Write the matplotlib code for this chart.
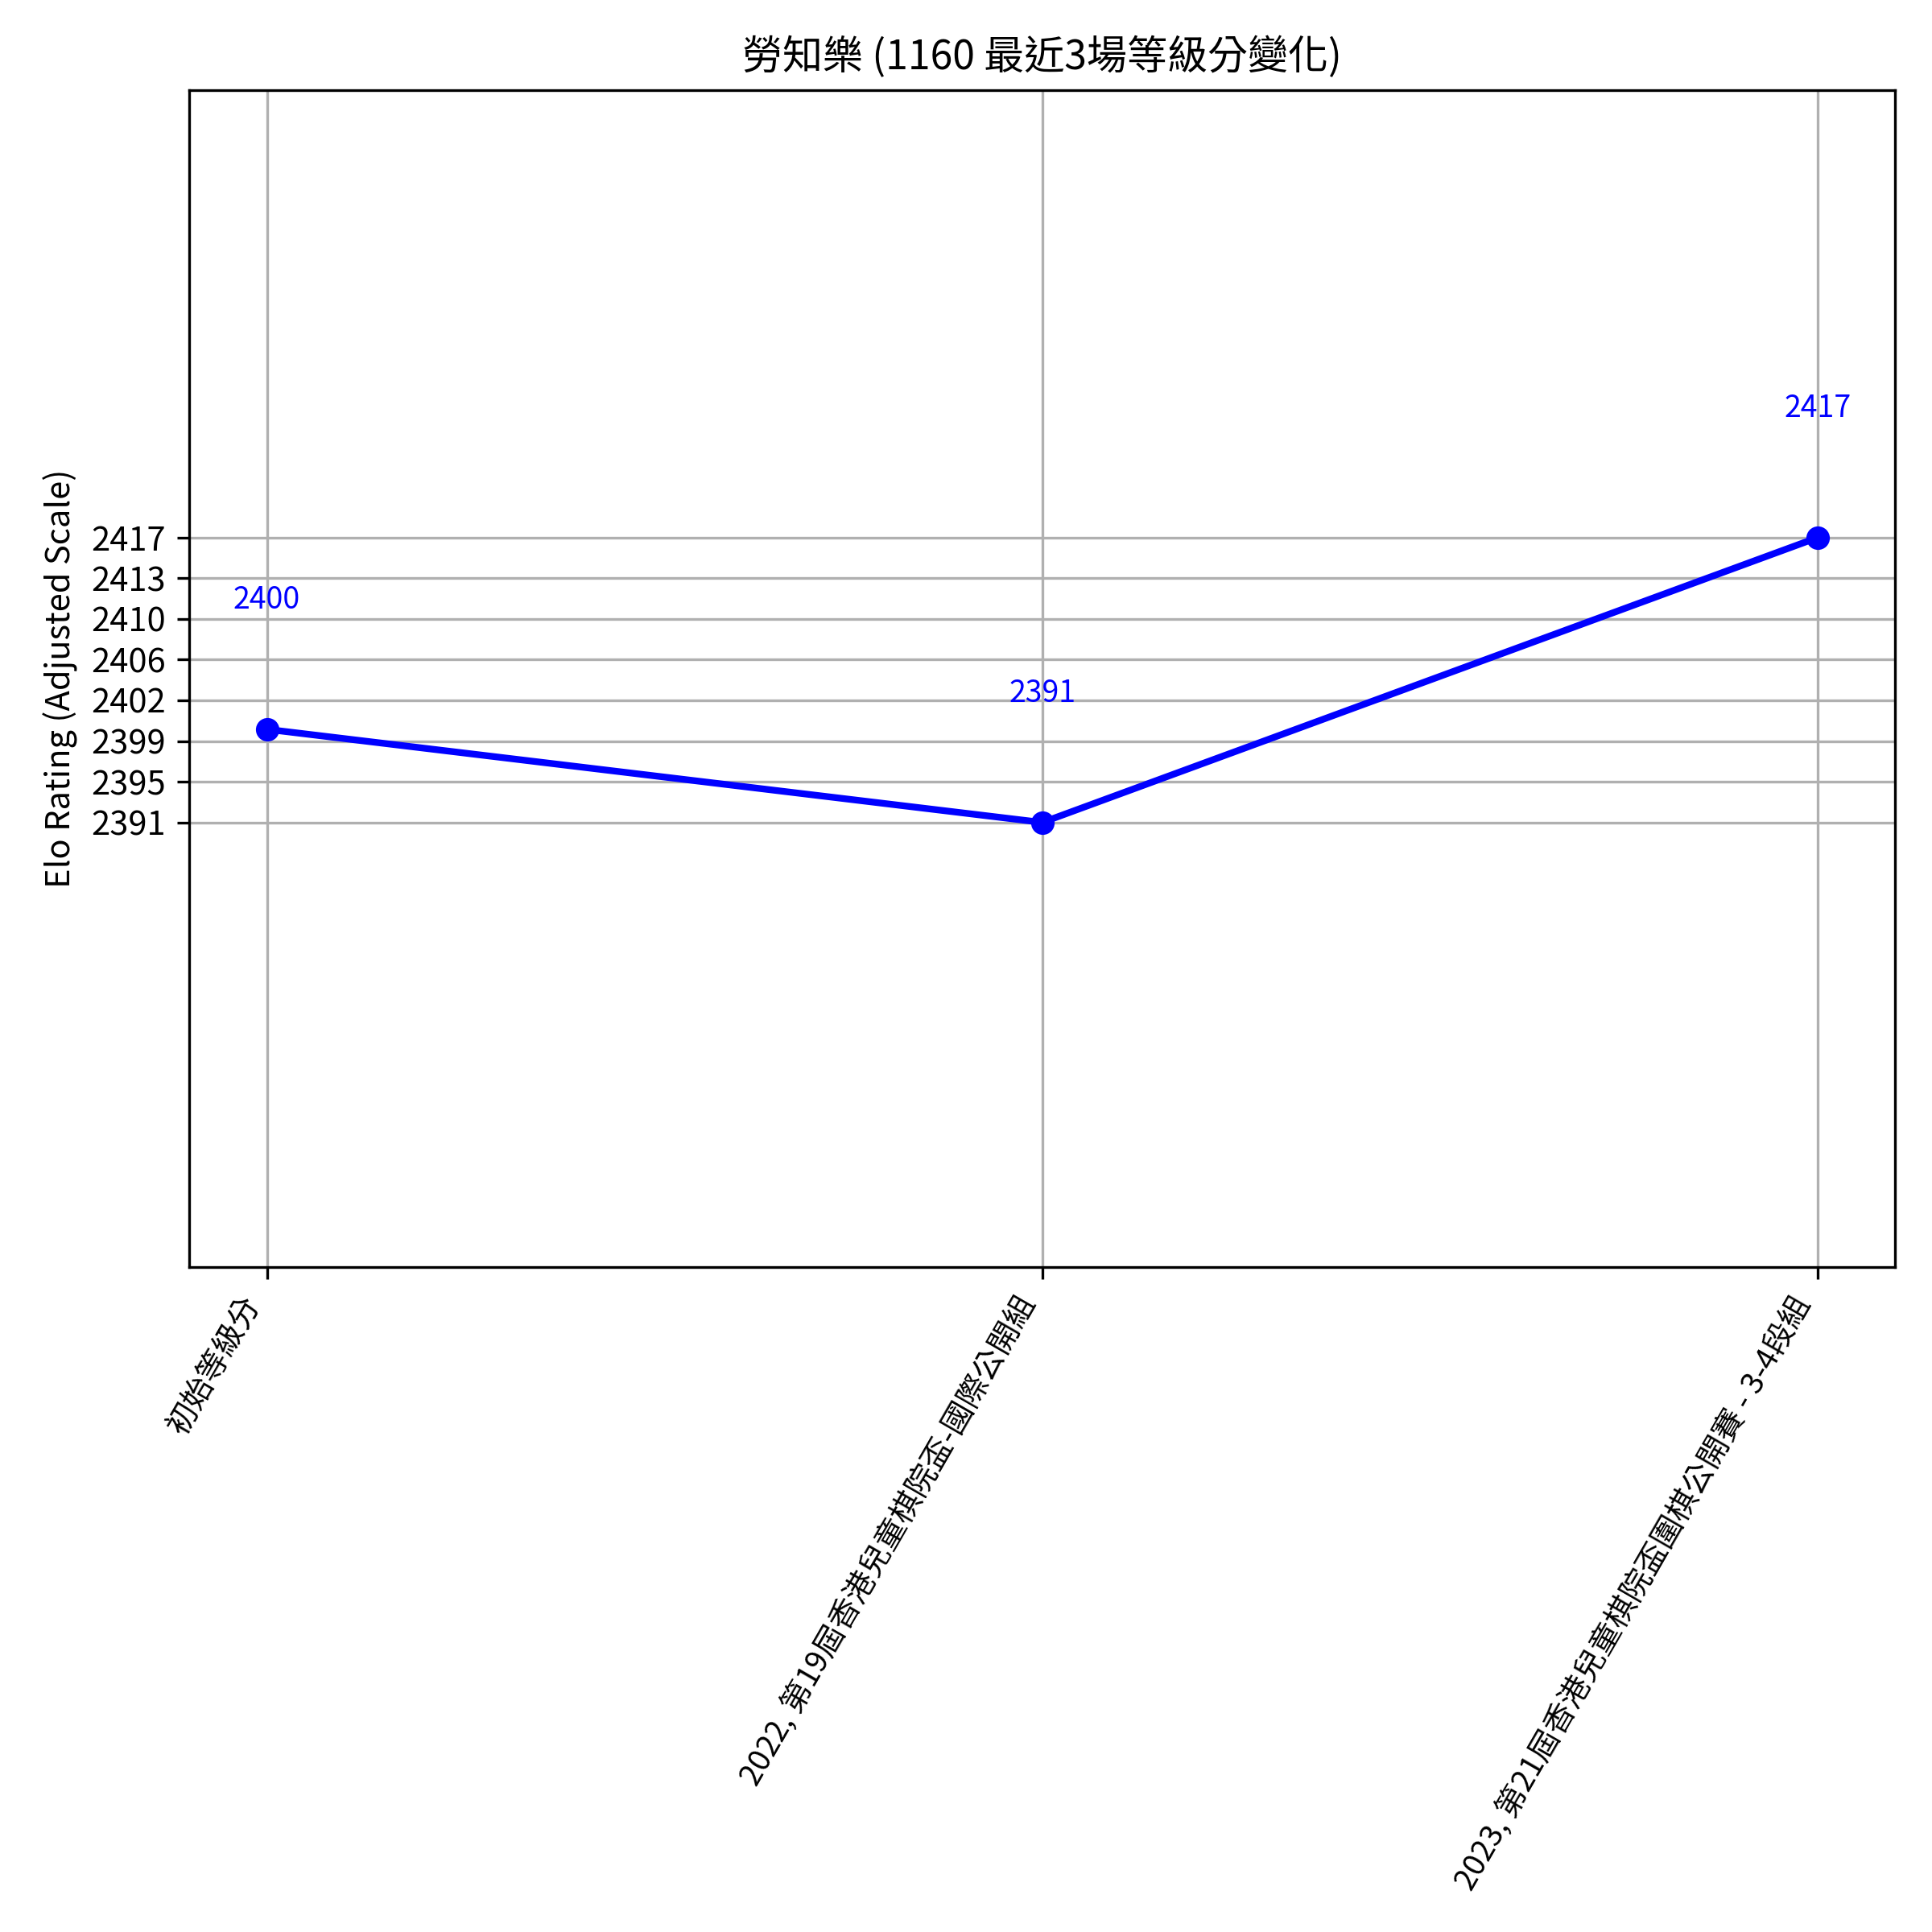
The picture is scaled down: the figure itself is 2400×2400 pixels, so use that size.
import matplotlib
matplotlib.use("Agg")
import matplotlib.pyplot as plt
import numpy as np

plt.rcParams['font.family'] = ['Noto Sans CJK TC', 'DejaVu Sans']

# data
events = ["初始等級分",
          "2022, 第19屆香港兒童棋院盃-國際公開組",
          "2023, 第21屆香港兒童棋院盃圍棋公開賽 - 3-4段組"]
ratings = [2399.5, 2391, 2417]
tick_labels = ["2391", "2395", "2399", "2402", "2406", "2410", "2413", "2417"]

fig, ax = plt.subplots(figsize=(8, 8), dpi=300)
fig.subplots_adjust(left=0.098, right=0.981, bottom=0.344, top=0.9535)

x = np.arange(len(events))
ax.plot(x, ratings, color="blue", marker="o", linewidth=2, markersize=6)

for xi, r in zip(x, ratings):
    ax.text(xi, r + 11.8, str(round(r)), color="blue", ha="center", va="center", fontsize=9)

ticks = np.linspace(min(ratings), max(ratings), len(tick_labels))
ax.set_yticks(ticks)
ax.set_yticklabels(tick_labels, fontsize=10)
ax.set_ylim(min(ratings) - 40.6, max(ratings) + 40.85)

ax.set_xticks(x)
ax.set_xticklabels(events, rotation=60, ha="right", fontsize=9.2)

ax.set_ylabel("Elo Rating (Adjusted Scale)", fontsize=10)
ax.set_title("勞知樂 (1160 最近3場等級分變化)", fontsize=12)
ax.grid(True)

fig.savefig("out.png", dpi=300)
